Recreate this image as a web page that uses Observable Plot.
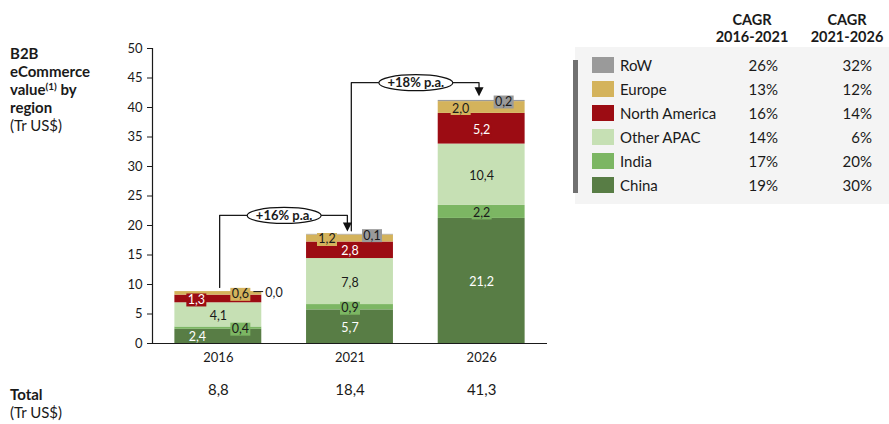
<!DOCTYPE html>
<html>
<head>
<meta charset="utf-8">
<script src="https://cdn.jsdelivr.net/npm/d3@7"></script>
<script src="https://cdn.jsdelivr.net/npm/@observablehq/plot@0.6"></script>
<style>
  body { margin: 0; background: #fff; font-family: Lato, "Open Sans", sans-serif; color: #1a1a1a; }
  #wrap { position: relative; width: 889px; height: 424px; overflow: hidden; }
  #chart { position: absolute; left: 0; top: 0; }
  .side { position: absolute; left: 10px; font-size: 15px; line-height: 18px; }
  .side sup { font-size: 10px; line-height: 0; vertical-align: 5px; }
  #legend .panel { position: absolute; left: 575px; top: 47px; width: 314px; height: 157px; background: #f4f4f4; }
  #legend .bar { position: absolute; left: 573px; top: 60px; width: 5px; height: 133px; background: #707070; }
  #legend .hdr { position: absolute; width: 110px; text-align: center; font-weight: 700; font-size: 14.5px; line-height: 17.5px; }
  #legend .row { position: absolute; left: 0; width: 889px; height: 18px; font-size: 15px; line-height: 18px; }
  #legend .sw { position: absolute; left: 592px; top: 1px; width: 22px; height: 16px; }
  #legend .lab { position: absolute; left: 620px; }
  #legend .v1 { position: absolute; right: 111px; }
  #legend .v2 { position: absolute; right: 17px; }
</style>
</head>
<body>
<div id="wrap">
  <div id="chart"></div>
  <div class="side" style="top:44px"><b>B2B<br>eCommerce<br>value<sup>(1)</sup> by<br>region</b><br>(Tr US$)</div>
  <div class="side" style="top:385px"><b>Total</b><br>(Tr US$)</div>
  <div id="legend"></div>
</div>
<script>
// ---- data ----
const years = [2016, 2021, 2026];
const regions = ["China", "India", "Other APAC", "North America", "Europe", "RoW"];
const china = [2.4, 5.7, 21.2];
const india = [0.4, 0.9, 2.2];
const otherApac = [4.1, 7.8, 10.4];
const northAmerica = [1.3, 2.8, 5.2];
const europe = [0.6, 1.2, 2.0];
const restOfWorld = [0.0, 0.1, 0.2];
const totals = [8.8, 18.4, 41.3];
const cagr2016_2021 = ["19%", "17%", "14%", "16%", "13%", "26%"];
const cagr2021_2026 = ["30%", "20%", "6%", "14%", "12%", "32%"];
const growthLabels = ["+16% p.a.", "+18% p.a."];
const growthLevels = [21.7, 44.2];
const yTicks = [0, 5, 10, 15, 20, 25, 30, 35, 40, 45, 50];

// ---- styles ----
const regionColors = {
  "China": "#587d45", "India": "#7cb663", "Other APAC": "#c6e0b4",
  "North America": "#9c0c13", "Europe": "#d4b35c", "RoW": "#9a9a9a"
};
const whiteText = new Set(["China", "North America"]);
const labelDx = {
  "2016|China": -21, "2016|India": 22, "2016|North America": -22, "2016|Europe": 22, "2016|RoW": 47,
  "2021|Europe": -23, "2021|RoW": 22,
  "2026|Europe": -21, "2026|RoW": 22
};
const halfBar = 1.65; // half bar width in years
const fmt = v => v.toFixed(1).replace(".", ",");

const series = [china, india, otherApac, northAmerica, europe, restOfWorld];
const rows = [];
years.forEach((year, j) => regions.forEach((region, i) => rows.push({year, region, value: series[i][j]})));

// label positions (segment mid points)
const labels = [];
years.forEach(year => {
  let base = 0;
  rows.filter(r => r.year === year).forEach(r => {
    const key = year + "|" + r.region;
    const outside = r.value === 0;
    labels.push({...r, mid: base + r.value / 2, dx: labelDx[key] || 0, outside,
      textFill: outside ? "#1a1a1a" : (whiteText.has(r.region) ? "#ffffff" : "#1a1a1a")});
    base += r.value;
  });
});

// custom symbols
const boxSymbol = {draw(ctx) { ctx.moveTo(-10, -6.5); ctx.lineTo(10, -6.5); ctx.lineTo(10, 6.5); ctx.lineTo(-10, 6.5); ctx.closePath(); }};
const triDown = {draw(ctx) { ctx.moveTo(-4.5, -9); ctx.lineTo(4.5, -9); ctx.lineTo(0, 0); ctx.closePath(); }};
const ellipseSym = {draw(ctx) {
  const rx = 37, ry = 8, k = 0.5523;
  ctx.moveTo(-rx, 0);
  ctx.bezierCurveTo(-rx, -ry * k, -rx * k, -ry, 0, -ry);
  ctx.bezierCurveTo(rx * k, -ry, rx, -ry * k, rx, 0);
  ctx.bezierCurveTo(rx, ry * k, rx * k, ry, 0, ry);
  ctx.bezierCurveTo(-rx * k, ry, -rx, ry * k, -rx, 0);
  ctx.closePath();
}};

// growth arrows
const arrows = growthLabels.map((label, k) => ({
  label, level: growthLevels[k], from: years[k], to: years[k + 1],
  start: totals[k] + 0.7, tip: totals[k + 1] + 0.6
}));
const arrowPath = arrows.flatMap((a, k) => [
  {k, x: a.from + 0.05, y: a.start}, {k, x: a.from + 0.05, y: a.level},
  {k, x: a.to - 0.1, y: a.level}, {k, x: a.to - 0.1, y: a.tip + 1}
]);

const labelGroups = d3.groups(labels, d => d.dx);
const labelMarks = labelGroups.flatMap(([dx, items]) => [
  Plot.dot(items.filter(d => !d.outside), {x: "year", y: "mid", dx, dy: 1, r: 5, symbol: boxSymbol, fill: d => regionColors[d.region]}),
  Plot.text(items, {x: "year", y: "mid", dx, dy: 1, text: d => fmt(d.value), fill: "textFill", fontSize: 12.5,
    textAnchor: items[0].outside ? "start" : "middle"})
]);

const outsideLabels = labels.filter(d => d.outside);

const chart = Plot.plot({
  width: 889, height: 424,
  marginLeft: 152, marginRight: 342, marginTop: 48, marginBottom: 81,
  style: {fontFamily: "Lato, 'Open Sans', sans-serif", fontSize: "13px", color: "#1a1a1a", background: "transparent"},
  x: {domain: [2013.5, 2028.5]},
  y: {domain: [0, 50]},
  marks: [
    Plot.rectY(rows, Plot.stackY({
      x1: d => d.year - halfBar, x2: d => d.year + halfBar, y: "value",
      z: "region", order: regions, fill: d => regionColors[d.region]
    })),
    ...labelMarks,
    Plot.ruleY(outsideLabels, {y: "mid", x1: d => d.year + 1.35, x2: d => d.year + 1.72, stroke: "#1a1a1a", strokeWidth: 1}),
    Plot.line(arrowPath, {x: "x", y: "y", z: "k", stroke: "#1a1a1a", strokeWidth: 1.3}),
    Plot.dot(arrows, {x: a => a.to - 0.1, y: "tip", r: 5, symbol: triDown, fill: "#111"}),
    Plot.dot(arrows, {x: a => (a.from + a.to) / 2, y: "level", r: 5, symbol: ellipseSym, fill: "white", stroke: "#111", strokeWidth: 1.2}),
    Plot.text(arrows, {x: a => (a.from + a.to) / 2, y: "level", text: "label", fontSize: 13, fontWeight: 700, fill: "#1a1a1a"}),
    Plot.axisY({ticks: yTicks, tickSize: 5, tickPadding: 5, fontSize: 13, label: null}),
    Plot.axisX({ticks: years, tickFormat: d => String(d), tickSize: 0, tickPadding: 9, fontSize: 13, label: null}),
    Plot.ruleX([2013.5], {stroke: "#1a1a1a", strokeWidth: 1.2}),
    Plot.ruleY([0], {stroke: "#1a1a1a", strokeWidth: 1.2}),
    Plot.text(years, {x: d => d, frameAnchor: "bottom", dy: 51, text: (d, i) => fmt(totals[i]), fontSize: 15})
  ]
});
document.getElementById("chart").appendChild(chart);

// ---- legend table (HTML) ----
const legend = d3.select("#legend");
legend.append("div").attr("class", "panel");
legend.append("div").attr("class", "bar");
[["CAGR", "2016-2021", 752], ["CAGR", "2021-2026", 847]].forEach(([a, b, cx]) => {
  legend.append("div").attr("class", "hdr").style("left", (cx - 55) + "px").style("top", "10.5px").html(a + "<br>" + b);
});
regions.slice().reverse().forEach((region, i) => {
  const idx = regions.indexOf(region);
  const r = legend.append("div").attr("class", "row").style("top", (56 + 24 * i) + "px");
  r.append("div").attr("class", "sw").style("background", regionColors[region]);
  r.append("div").attr("class", "lab").text(region);
  r.append("div").attr("class", "v1").text(cagr2016_2021[idx]);
  r.append("div").attr("class", "v2").text(cagr2021_2026[idx]);
});
</script>
</body>
</html>
